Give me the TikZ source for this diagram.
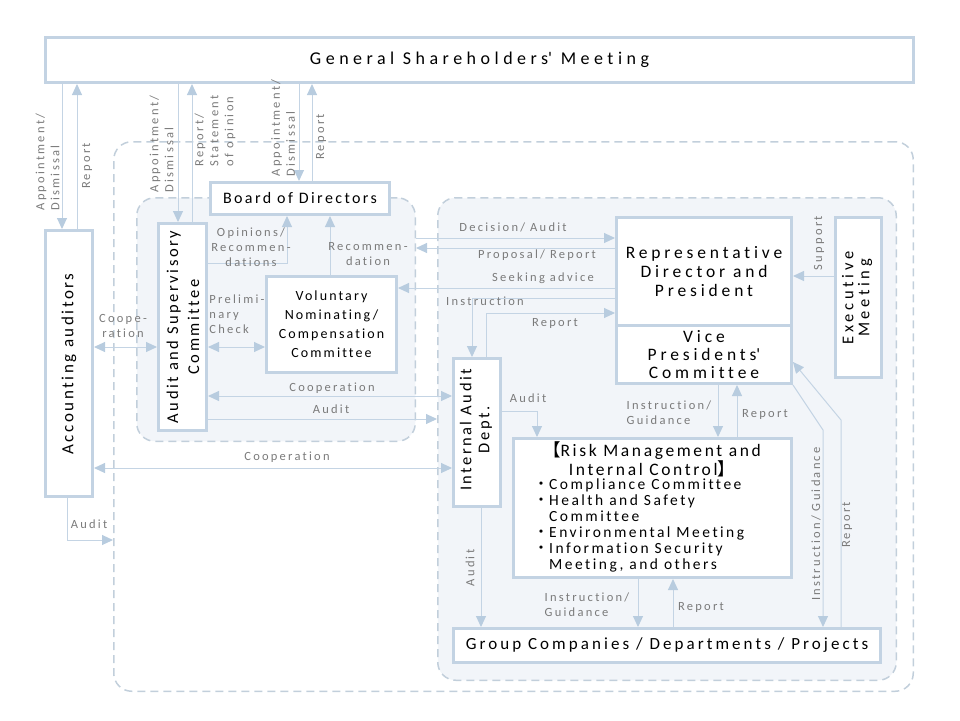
\documentclass[tikz,border=0pt]{standalone}
\usepackage{fontspec}
\setmainfont{Carlito}[LetterSpace=15, Ligatures=NoCommon]
\newfontfamily\lblfont{Carlito}[LetterSpace=18, Ligatures=NoCommon]
\newfontfamily\titlefont{Carlito}[LetterSpace=25, Ligatures=NoCommon]
\newfontfamily\widefont{Carlito}[LetterSpace=22, Ligatures=NoCommon]
\newfontfamily\cjk{Noto Sans CJK JP}
\usetikzlibrary{arrows.meta}

\definecolor{boxc}{HTML}{C3D3E3}
\definecolor{linec}{HTML}{C4D4E4}
\definecolor{tipc}{HTML}{B8CCDF}
\definecolor{dashc}{HTML}{C2CFDB}
\definecolor{grpc}{HTML}{F2F5F9}
\definecolor{labc}{HTML}{7A7A7A}

\tikzset{
	ctip/.tip={Triangle[length=11pt, width=10pt, color=tipc]},
	box/.style={draw=boxc, line width=3pt, fill=white, inner sep=0pt, align=center, font=\fontsize{16}{19}\selectfont},
	boxtext/.style={inner sep=0pt, align=center, font=\fontsize{16}{19}\selectfont},
	group/.style={draw=dashc, line width=1.5pt, dash pattern=on 8pt off 5pt, rounded corners=18pt, inner sep=0pt},
	conn/.style={draw=linec, line width=1pt, -ctip},
	both/.style={draw=linec, line width=1pt, ctip-ctip},
	lbl/.style={text=labc, inner sep=0pt, font=\lblfont\fontsize{12.5}{15}\selectfont},
}

\begin{document}
\begin{tikzpicture}[x=1pt, y=-1pt]
	\useasboundingbox (0,0) rectangle (960,720);

	% пунктирные области
	\node[group, minimum width=799.5, minimum height=549.5] (outer) at (513.5,416.5) {};
	\node[group, fill=grpc, minimum width=278.5, minimum height=243.5] (lgrp) at (276,319.5) {};
	\node[group, fill=grpc, minimum width=458.5, minimum height=482.5] (rgrp) at (667,439) {};

	% блоки
	\node[box, minimum width=868, minimum height=45] (gsm) at (479.5,60)
		{\titlefont\fontsize{18}{20}\selectfont General Shareholders\textquotesingle\ Meeting};
	\node[box, minimum width=47, minimum height=266] (acc) at (69,363.5) {};
	\node[boxtext, rotate=90, font=\fontsize{17}{20}\selectfont] (acc-t) at (69,364) {Accounting auditors};
	\node[box, minimum width=48, minimum height=207] (asc) at (182.5,327) {};
	\node[boxtext, rotate=90, font=\fontsize{16.5}{21}\selectfont] (asc-t) at (183,327) {Audit and Supervisory\\Committee};
	\node[box, minimum width=179, minimum height=32] (bod) at (300,198.5) {Board of Directors};
	\node[box, minimum width=130, minimum height=96, font=\fontsize{14}{19}\selectfont] (vol) at (331.5,324.5)
		{Voluntary\\Nominating/\\Compensation\\Committee};
	\node[box, minimum width=175, minimum height=58, font=\widefont\fontsize{17.5}{18}\selectfont] (vp) at (704,354.5)
		{Vice\\Presidents\textquotesingle\\Committee};
	\node[box, minimum width=175, minimum height=108, font=\widefont\fontsize{17.5}{19}\selectfont] (rep) at (704,271.5)
		{Representative\\Director and\\President};
	\node[box, minimum width=46, minimum height=160] (exe) at (858.5,297.5) {};
	\node[boxtext, rotate=90, font=\widefont\fontsize{16.5}{16}\selectfont] (exe-t) at (857,298) {Executive\\Meeting};
	\node[box, minimum width=47, minimum height=148] (iad) at (477,432.5) {};
	\node[boxtext, rotate=90, font=\fontsize{16.5}{18}\selectfont] (iad-t) at (476,430) {Internal Audit\\Dept.};
	\node[box, minimum width=278, minimum height=139] (risk) at (652.5,508) {};
	\node[boxtext, font=\fontsize{17.5}{16}\selectfont] (risk-t) at (652,459)
		{{\cjk 【}Risk Management and\\Internal Control{\cjk 】}};
	\node[boxtext, anchor=north west, align=left, font=\addfontfeatures{LetterSpace=16}\fontsize{15.5}{16}\selectfont] (risk-l) at (533,479)
		{\makebox[16pt][c]{\cjk ・}Compliance Committee\\
		 \makebox[16pt][c]{\cjk ・}Health and Safety\\
		 \hspace*{16pt}Committee\\
		 \makebox[16pt][c]{\cjk ・}Environmental Meeting\\
		 \makebox[16pt][c]{\cjk ・}Information Security\\
		 \hspace*{16pt}Meeting, and others};
	\node[box, minimum width=427, minimum height=34, font=\addfontfeatures{LetterSpace=18}\fontsize{17}{19}\selectfont] (grp) at (667,645.5)
		{Group Companies / Departments / Projects};

	% связи с собранием акционеров
	\draw[conn] ([xshift=-7]acc.north |- gsm.south) -- ([xshift=-7]acc.north);
	\draw[conn] ([xshift=8]acc.north) -- ([xshift=8]acc.north |- gsm.south);
	\draw[conn] ([xshift=-4.5]asc.north |- gsm.south) -- ([xshift=-4.5]asc.north);
	\draw[conn] ([xshift=9.5]asc.north) -- ([xshift=9.5]asc.north |- gsm.south);
	\draw[conn] ([xshift=-1]bod.north |- gsm.south) -- ([xshift=-1]bod.north);
	\draw[conn] ([xshift=12]bod.north) -- ([xshift=12]bod.north |- gsm.south);

	% совет директоров
	\draw[conn] ([yshift=64]asc.east) -| ([xshift=-13]bod.south);
	\draw[conn] ([xshift=-1.5]vol.north) -- ([xshift=-1.5]vol.north |- bod.south);
	\draw[conn] ([yshift=33.5]rep.west -| lgrp.east) -- ([yshift=33.5]rep.west);
	\draw[conn] ([yshift=23.5]rep.west) -- ([yshift=23.5]rep.west -| lgrp.east);
	\draw[conn] ([yshift=-16.5]rep.west) -- ([yshift=-16.5]rep.west -| vol.east);
	\draw[conn] ([yshift=-26.5]rep.west) -| ([xshift=-5]iad.north);
	\draw[conn] ([xshift=9]iad.north) |- ([yshift=-41.5]rep.west);
	\draw[conn] ([yshift=21.5]exe.west) -- ([yshift=21.5]exe.west -| rep.east);

	% аудит и сотрудничество
	\draw[both] ([yshift=16.5]acc.east) -- ([yshift=16.5]acc.east -| asc.west);
	\draw[both] ([yshift=-20]asc.east) -- ([yshift=-20]asc.east -| vol.west);
	\draw[both] ([yshift=-69]asc.east) -- ([yshift=-69]asc.east -| iad.west);
	\draw[conn] ([yshift=-92]asc.east) -- ([yshift=-92]asc.east -| rgrp.west);
	\draw[both] ([yshift=-104.5]acc.east) -- ([yshift=-104.5]acc.east -| iad.west);
	\draw[conn] ([xshift=-2]acc.south) |- ([yshift=-42]acc.south -| outer.west);
	\draw[conn] ([yshift=21.5]iad.east) -| ([xshift=-115.5]risk.north);
	\draw[conn] ([xshift=4]iad.south) -- ([xshift=4]iad.south |- grp.north);

	% исполнительная линия
	\draw[conn] ([xshift=14]vp.south) -- ([xshift=14]vp.south |- risk.north);
	\draw[conn] ([xshift=33]vp.south |- risk.north) -- ([xshift=33]vp.south);
	\draw[conn] ([xshift=-14.5]risk.south) -- ([xshift=-14.5]risk.south |- grp.north);
	\draw[conn] ([xshift=20.5]risk.south |- grp.north) -- ([xshift=20.5]risk.south);
	\draw[conn] (vp.south east) -- ([xshift=-59,yshift=197]grp.north east) -- ([xshift=-59]grp.north east);
	\draw[conn] ([xshift=-41]grp.north east) -- ([xshift=-41,yshift=207]grp.north east) -- ([yshift=-7.5]vp.east);

	% подписи
	\node[lbl, rotate=90, align=left] (l-acc-a) at (47.5,162) {Appointment/\\Dismissal};
	\node[lbl, rotate=90] (l-acc-r) at (87,166) {Report};
	\node[lbl, rotate=90, align=left] (l-asc-a) at (161.5,144) {Appointment/\\Dismissal};
	\node[lbl, rotate=90, align=left] (l-asc-r) at (215,131) {Report/\\Statement\\of opinion};
	\node[lbl, rotate=90, align=left] (l-bod-a) at (283,128) {Appointment/\\Dismissal};
	\node[lbl, rotate=90] (l-bod-r) at (321,137) {Report};
	\node[lbl, align=center] (l-op) at (251,247) {Opinions/\\Recommen-\\dations};
	\node[lbl, align=center] (l-rec) at (368,254) {Recommen-\\dation};
	\node[lbl] (l-dec) at (513,227) {Decision/ Audit};
	\node[lbl] (l-prop) at (537,255) {Proposal/ Report};
	\node[lbl] (l-seek) at (543,278) {Seeking advice};
	\node[lbl] (l-ins) at (485,301) {Instruction};
	\node[lbl] (l-rep) at (555,323) {Report};
	\node[lbl, rotate=90] (l-sup) at (819,243) {Support};
	\node[lbl, align=center] (l-coop1) at (123,326) {Coope-\\ration};
	\node[lbl, align=left] (l-pre) at (237,314) {Prelimi-\\nary\\Check};
	\node[lbl] (l-coop2) at (332,388) {Cooperation};
	\node[lbl] (l-aud1) at (331,409) {Audit};
	\node[lbl] (l-coop3) at (287,457) {Cooperation};
	\node[lbl] (l-aud2) at (89,524) {Audit};
	\node[lbl] (l-aud3) at (528,398) {Audit};
	\node[lbl, align=left] (l-ig1) at (669,413) {Instruction/\\Guidance};
	\node[lbl] (l-rep2) at (765,414) {Report};
	\node[lbl, rotate=90] (l-aud4) at (470,568) {Audit};
	\node[lbl, align=left] (l-ig2) at (587,605) {Instruction/\\Guidance};
	\node[lbl] (l-rep3) at (701,607) {Report};
	\node[lbl, rotate=90] (l-ig3) at (816,524) {Instruction/ Guidance};
	\node[lbl, rotate=90] (l-rep4) at (847,525) {Report};
\end{tikzpicture}
\end{document}
